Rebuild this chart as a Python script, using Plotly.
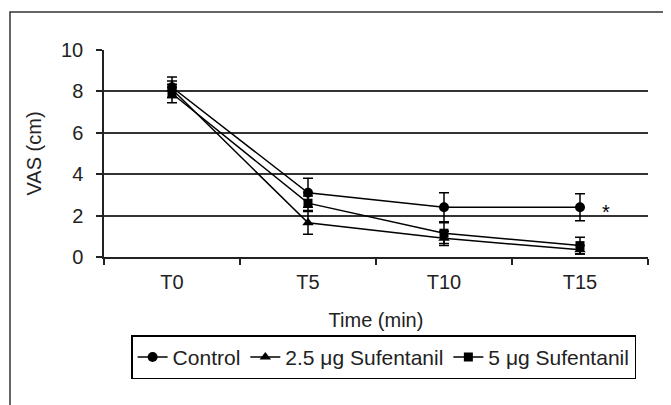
import plotly.graph_objects as go

times = ["T0", "T5", "T10", "T15"]
control = [8.2, 3.1, 2.4, 2.4]
control_err = [0.5, 0.7, 0.7, 0.65]
suf25 = [8.1, 1.65, 0.9, 0.35]
suf25_err = [0.4, 0.55, 0.35, 0.2]
suf5 = [7.9, 2.6, 1.15, 0.55]
suf5_err = [0.45, 0.35, 0.5, 0.4]
series_names = ["Control", "2.5 μg Sufentanil", "5 μg Sufentanil"]
sig_label = "*"
sig_x = "T15"
sig_y = 2.3

FONT = "Liberation Sans, Arial, sans-serif"

fig = go.Figure()
for name, vals, errs, sym in [
    (series_names[0], control, control_err, "circle"),
    (series_names[1], suf25, suf25_err, "triangle-up"),
    (series_names[2], suf5, suf5_err, "square"),
]:
    fig.add_trace(go.Scatter(
        x=times, y=vals, name=name, mode="lines+markers",
        line=dict(color="black", width=1.5),
        marker=dict(symbol=sym, size=10 if sym != "square" else 9, color="black"),
        error_y=dict(type="data", array=errs, visible=True, color="black", thickness=1.5, width=5),
    ))

fig.add_annotation(x=sig_x, y=sig_y, text=sig_label, showarrow=False, xshift=26, yshift=-3,
                   font=dict(family=FONT, size=20, color="black"))

# plot area: x 96..640 within figure, y 42..249
fig.add_shape(type="rect", xref="paper", yref="paper",
              x0=(2 - 96) / 544, x1=(658 - 96) / 544,
              y0=(249 - 420) / 207, y1=(249 - 4) / 207,
              line=dict(color="#333", width=1.5), fillcolor="rgba(0,0,0,0)", layer="below")

fig.update_layout(
    width=663, height=397,
    margin=dict(l=96, r=23, t=42, b=148),
    paper_bgcolor="white", plot_bgcolor="white",
    font=dict(family=FONT, size=20, color="#222"),
    showlegend=True,
    legend=dict(orientation="h", x=0.514, xanchor="center", y=-0.485, yanchor="middle",
                bordercolor="black", borderwidth=1.5, font=dict(size=21, color="#222"),
                itemwidth=30, tracegroupgap=0),
    xaxis=dict(
        type="category", showgrid=False, showline=True, linecolor="#222", linewidth=1.5,
        ticks="outside", tickson="boundaries", ticklen=6, tickcolor="#222", tickwidth=1.5,
        ticklabelstandoff=6,
        title=dict(text="Time (min)", standoff=21, font=dict(size=20)),
        range=[-0.5, 3.5],
    ),
    yaxis=dict(
        range=[0, 10], dtick=2, showgrid=True, gridcolor="#333", gridwidth=1.5,
        showline=True, linecolor="#222", linewidth=1.5,
        ticks="outside", ticklen=6, tickcolor="#222", tickwidth=1.5, ticklabelstandoff=9,
        zeroline=False,
        title=dict(text="VAS (cm)", standoff=14, font=dict(size=20)),
    ),
)

fig.write_html("out.html")
